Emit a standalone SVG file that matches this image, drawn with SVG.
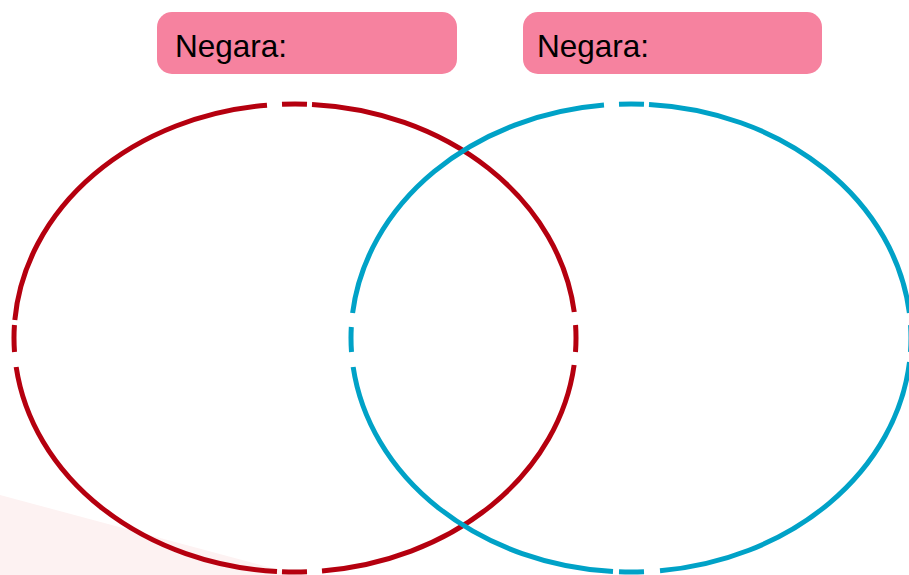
<svg xmlns="http://www.w3.org/2000/svg" width="909" height="575" viewBox="0 0 909 575">
<style>
.lbl{fill:#F6829F}
.txt{font-family:"Liberation Sans",Arial,sans-serif;font-size:31.5px;fill:#000}
.red{fill:none;stroke:#B5000F;stroke-width:5}
.blue{fill:none;stroke:#00A2C7;stroke-width:5}
</style>
<rect width="909" height="575" fill="#fff"/>
<polygon points="0,495 298,575 0,575" fill="#FDF2F2"/>
<g id="connectors">
<g id="circle-red">
<path class="red" d="M312,104.43 A281,234 0 0 1 574.26,312 M575.57,325 A281,234 0 0 1 575.5,352 M574.13,365 A281,234 0 0 1 322,570.92 M307,571.79 A281,234 0 0 1 282,571.75 M277,571.52 A281,234 0 0 1 16.17,367 M14.5,352 A281,234 0 0 1 14.43,325 M14.83,320 A281,234 0 0 1 267,105.17 M282,104.25 A281,234 0 0 1 307,104.21"/>
</g>
<g id="circle-blue">
<path class="blue" d="M649,104.48 A280,234 0 0 1 909.4,313 M910.57,325 A280,234 0 0 1 910.5,352 M909.52,362 A280,234 0 0 1 660,570.74 M644,571.75 A280,234 0 0 1 619,571.78 M613,571.52 A280,234 0 0 1 353.16,367 M351.5,352 A280,234 0 0 1 351.31,327 M352.6,313 A280,234 0 0 1 604,105.09 M619,104.22 A280,234 0 0 1 644,104.25"/>
</g>
</g>
<g id="label-1">
<rect class="lbl" x="157" y="12" width="300" height="62" rx="15"/>
<text class="txt" x="175" y="57">Negara:</text>
</g>
<g id="label-2">
<rect class="lbl" x="523" y="12" width="299" height="62" rx="15"/>
<text class="txt" x="537" y="57">Negara:</text>
</g>
</svg>
